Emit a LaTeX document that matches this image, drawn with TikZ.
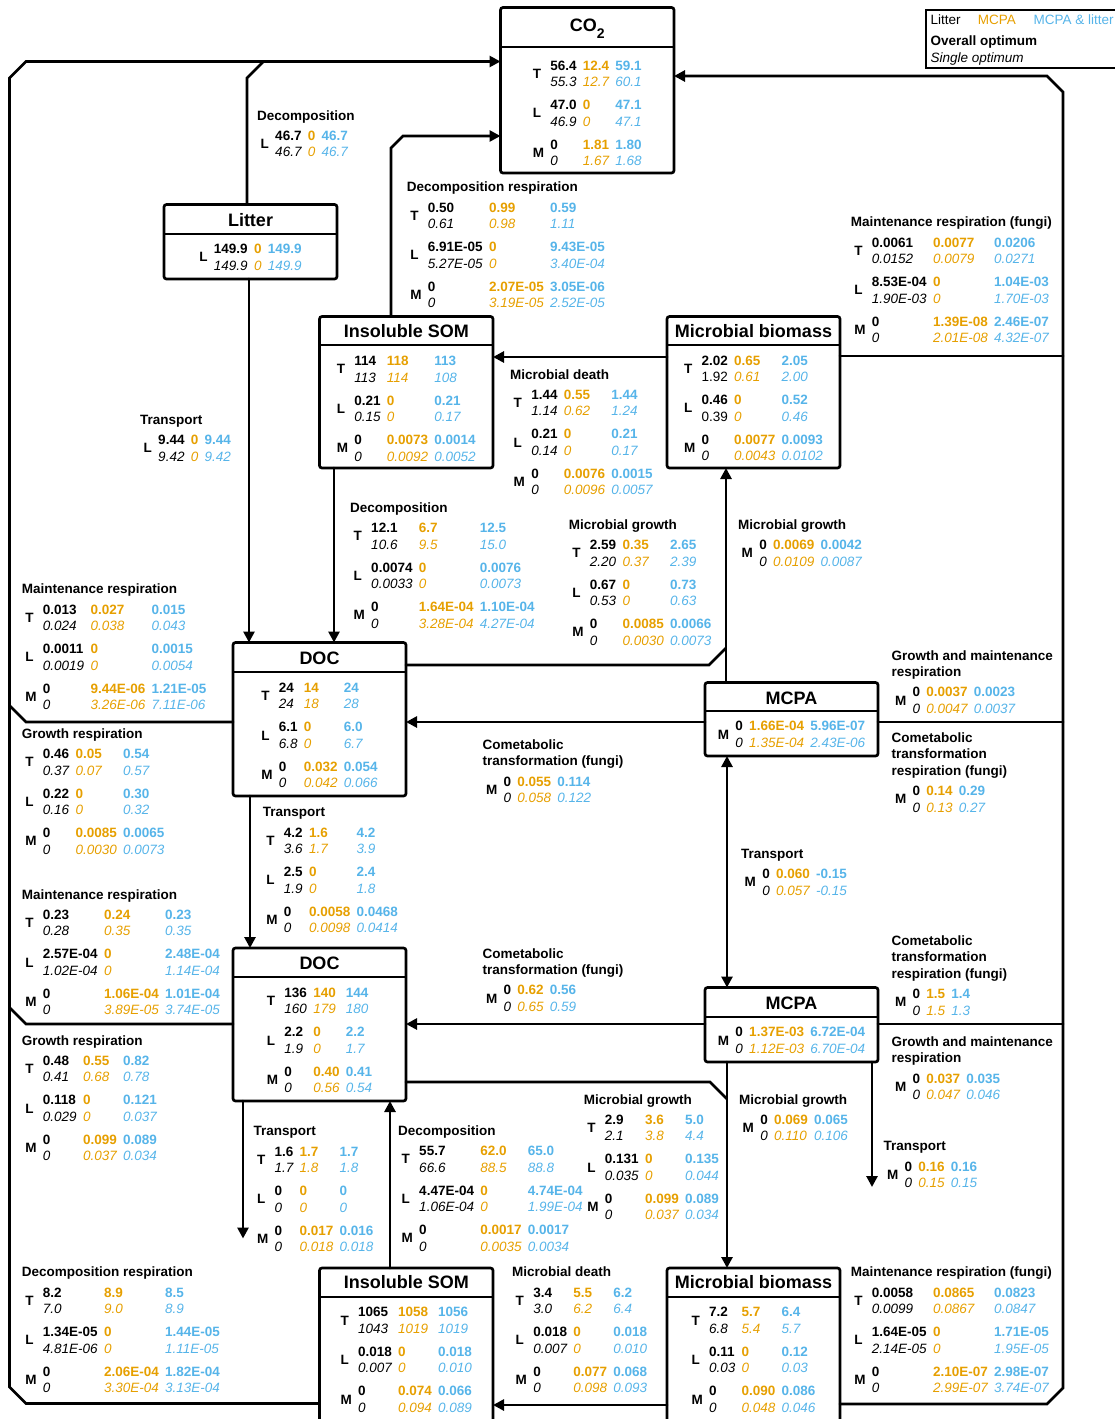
\documentclass[tikz,border=0pt]{standalone}
\usepackage{fontspec}
\setmainfont{Liberation Sans}
\usepackage{array}
\usetikzlibrary{arrows.meta}
\definecolor{mo}{HTML}{E69F00}
\definecolor{mb}{HTML}{56B4E9}
\newcommand\lbl{\fontsize{13.5}{16.6}\selectfont}
\newcommand\bxf{\fontsize{18}{21}\selectfont\bfseries}
\newcommand\fr[7]{\smash{\raisebox{-8.3pt}{\bfseries #1}} & \bfseries #2 & \bfseries\color{mo}#3 & \bfseries\color{mb}#4\\ & \itshape #5 & \itshape\color{mo}#6 & \itshape\color{mb}#7\\[6.3pt]}
\newcommand\ttl[1]{\multicolumn{4}{@{}l@{}}{\bfseries #1}\\[3.7pt]}
\newcommand\ttla[1]{\multicolumn{4}{@{}l@{}}{\bfseries #1}\\}
\newcommand\blk[3]{\node[anchor=north west,inner sep=0pt,font=\lbl] (#1) at #2 {\begin{tabular}{@{\hspace{3.5pt}}l@{\hspace{6.3pt}}l@{\hspace{6.3pt}}l@{\hspace{6.3pt}}l@{}}#3\end{tabular}};}
\newcommand\bdy[3]{\node[anchor=north,inner sep=0pt,font=\lbl] (#1) at #2 {\begin{tabular}{@{}l@{\hspace{6.3pt}}l@{\hspace{6.3pt}}l@{\hspace{6.3pt}}l@{}}#3\end{tabular}};}
\tikzset{
 cbox/.style={draw, line width=2.7pt, rounded corners=2.5pt, inner sep=0pt, outer sep=0pt, anchor=north west},
 divl/.style={line width=2.7pt},
 flow/.style={line width=2.7pt, line cap=round, -{Triangle[length=11pt,width=11pt]}},
 link/.style={line width=2.7pt, line cap=round},
 btitle/.style={font=\bxf, anchor=base, inner sep=0pt},
 legtxt/.style={font=\lbl, anchor=base west, inner sep=0pt},
}
\begin{document}
\begin{tikzpicture}[x=1pt,y=-1pt]
\useasboundingbox (0,0) rectangle (1115,1419);
\clip (0,0) rectangle (1115,1419);

% ---------- boxes ----------
\node[cbox, minimum width=173.5pt, minimum height=165.5pt] (co2) at (500.5,7.5) {};
\node[cbox, minimum width=173pt, minimum height=74.5pt] (litter) at (164,204.5) {};
\node[cbox, minimum width=173.5pt, minimum height=151.5pt] (isom1) at (319.5,316.5) {};
\node[cbox, minimum width=173pt, minimum height=151.5pt] (mb1) at (667,316.5) {};
\node[cbox, minimum width=173pt, minimum height=153.5pt] (doc1) at (233,642.5) {};
\node[cbox, minimum width=173pt, minimum height=73.5pt] (mcpa1) at (705,682.5) {};
\node[cbox, minimum width=173pt, minimum height=153pt] (doc2) at (233,948) {};
\node[cbox, minimum width=173pt, minimum height=74.5pt] (mcpa2) at (705,987.5) {};
\node[cbox, minimum width=173.5pt, minimum height=180pt] (isom2) at (319.5,1268) {};
\node[cbox, minimum width=173pt, minimum height=180pt] (mb2) at (667,1268) {};

\draw[divl] (co2.north west |- 0,47) -- (co2.north east |- 0,47);
\draw[divl] (litter.north west |- 0,234) -- (litter.north east |- 0,234);
\draw[divl] (isom1.north west |- 0,345) -- (isom1.north east |- 0,345);
\draw[divl] (mb1.north west |- 0,345) -- (mb1.north east |- 0,345);
\draw[divl] (doc1.north west |- 0,672) -- (doc1.north east |- 0,672);
\draw[divl] (mcpa1.north west |- 0,711) -- (mcpa1.north east |- 0,711);
\draw[divl] (doc2.north west |- 0,977) -- (doc2.north east |- 0,977);
\draw[divl] (mcpa2.north west |- 0,1017) -- (mcpa2.north east |- 0,1017);
\draw[divl] (isom2.north west |- 0,1297) -- (isom2.north east |- 0,1297);
\draw[divl] (mb2.north west |- 0,1297) -- (mb2.north east |- 0,1297);

\node[btitle] (co2t) at (587.25,31.7) {CO\raisebox{-6.5pt}{\fontsize{14}{14}\selectfont 2}};
\node[btitle] (littert) at (250.5,226) {Litter};
\node[btitle] (isom1t) at (406.25,337.5) {Insoluble SOM};
\node[btitle] (mb1t) at (753.5,337.5) {Microbial biomass};
\node[btitle] (doc1t) at (319.5,664.5) {DOC};
\node[btitle] (mcpa1t) at (791.5,704) {MCPA};
\node[btitle] (doc2t) at (319.5,969.7) {DOC};
\node[btitle] (mcpa2t) at (791.5,1009) {MCPA};
\node[btitle] (isom2t) at (406.25,1288.7) {Insoluble SOM};
\node[btitle] (mb2t) at (753.5,1288.7) {Microbial biomass};

% ---------- box contents ----------
\bdy{co2b}{(587.25,58.2)}{\fr{T}{56.4}{12.4}{59.1}{55.3}{12.7}{60.1}\fr{L}{47.0}{0}{47.1}{46.9}{0}{47.1}\fr{M}{0}{1.81}{1.80}{0}{1.67}{1.68}}
\bdy{litb}{(250.5,241.7)}{\fr{L}{149.9}{0}{149.9}{149.9}{0}{149.9}}
\bdy{isom1b}{(406.25,353.7)}{\fr{T}{114}{118}{113}{113}{114}{108}\fr{L}{0.21}{0}{0.21}{0.15}{0}{0.17}\fr{M}{0}{0.0073}{0.0014}{0}{0.0092}{0.0052}}
\bdy{mb1b}{(753.5,353.2)}{\fr{T}{2.02}{0.65}{2.05}{\upshape 1.92}{0.61}{2.00}\fr{L}{0.46}{0}{0.52}{\upshape 0.39}{0}{0.46}\fr{M}{0}{0.0077}{0.0093}{0}{0.0043}{0.0102}}
\bdy{doc1b}{(319.5,680.5)}{\fr{T}{24}{14}{24}{24}{18}{28}\fr{L}{6.1}{0}{6.0}{6.8}{0}{6.7}\fr{M}{0}{0.032}{0.054}{0}{0.042}{0.066}}
\bdy{mcpa1b}{(791.5,718.9)}{\fr{M}{0}{1.66E-04}{5.96E-07}{0}{1.35E-04}{2.43E-06}}
\bdy{doc2b}{(319.5,985.5)}{\fr{T}{136}{140}{144}{160}{179}{180}\fr{L}{2.2}{0}{2.2}{1.9}{0}{1.7}\fr{M}{0}{0.40}{0.41}{0}{0.56}{0.54}}
\bdy{mcpa2b}{(791.5,1024.9)}{\fr{M}{0}{1.37E-03}{6.72E-04}{0}{1.12E-03}{6.70E-04}}
\bdy{isom2b}{(406.25,1304.9)}{\fr{T}{1065}{1058}{1056}{1043}{1019}{1019}\fr{L}{0.018}{0}{0.018}{0.007}{0}{0.010}\fr{M}{0}{0.074}{0.066}{0}{0.094}{0.089}}
\bdy{mb2b}{(753.5,1304.9)}{\fr{T}{7.2}{5.7}{6.4}{6.8}{5.4}{5.7}\fr{L}{0.11}{0}{0.12}{0.03}{0}{0.03}\fr{M}{0}{0.090}{0.086}{0}{0.048}{0.046}}

% ---------- legend ----------
\node[draw, line width=1.2pt, minimum width=204pt, minimum height=58pt, anchor=north west, inner sep=0pt, outer sep=0pt] (leg) at (926,10) {};
\node[legtxt] (lg1) at (930.5,24.1) {Litter};
\node[legtxt, text=mo] (lg2) at (977.7,24.1) {MCPA};
\node[legtxt, text=mb] (lg3) at (1033.3,24.1) {MCPA \& litter};
\node[legtxt, font=\lbl\bfseries] (lg4) at (930.5,45.5) {Overall optimum};
\node[legtxt, font=\lbl\itshape] (lg5) at (930.5,62.1) {Single optimum};

% ---------- connectors ----------
\draw[flow] (isom2.north west |- 0,1403.5) -- (26,1403.5) -- (9.5,1387) -- (9.5,78) -- (26,61.5) -- (co2.north west |- 0,61.5);
\draw[link] (doc1.north west |- 0,722) -- (26,722) -- (9.5,705.5);
\draw[link] (doc2.north west |- 0,1024) -- (26,1024) -- (9.5,1007.5);
\draw[link] (litter.north -| 247,0) -- (247,78) -- (263.5,61.5);
\draw[flow] (isom1.north -| 391,0) -- (391,148) -- (403,136) -- (co2.north west |- 0,136);
\draw[flow] (mb2.north east |- 0,1404) -- (1047,1404) -- (1063,1388) -- (1063,92) -- (1047,76) -- (co2.north east |- 0,76);
\draw[link] (mb1.north east |- 0,356) -- (1063,356);
\draw[link] (mcpa1.north east |- 0,722) -- (1063,722);
\draw[link] (mcpa2.north east |- 0,1024) -- (1063,1024);
\draw[flow] (mb1.north west |- 0,357) -- (isom1.north east |- 0,357);
\draw[flow] (litter.south -| 249,0) -- (doc1.north -| 249,0);
\draw[flow] (isom1.south -| 334,0) -- (doc1.north -| 334,0);
\draw[flow] (mcpa1.north -| 726,0) -- (mb1.south -| 726,0);
\draw[link] (doc1.north east |- 0,665) -- (709,665) -- (726,648);
\draw[flow] (mcpa1.north west |- 0,722) -- (doc1.north east |- 0,722);
\draw[line width=2.7pt, {Triangle[length=11pt,width=11pt]}-{Triangle[length=11pt,width=11pt]}] (mcpa1.south -| 727,0) -- (mcpa2.north -| 727,0);
\draw[flow] (doc1.south -| 250,0) -- (doc2.north -| 250,0);
\draw[flow] (mcpa2.north west |- 0,1024) -- (doc2.north east |- 0,1024);
\draw[flow] (isom2.north -| 390,0) -- (doc2.south -| 390,0);
\coordinate (t1) at (243,1238.5);
\draw[flow] (doc2.south -| 243,0) -- (t1);
\draw[flow] (mcpa2.south -| 727,0) -- (mb2.north -| 727,0);
\draw[link] (doc2.north east |- 0,1082) -- (710,1082) -- (727,1099);
\coordinate (t2) at (872,1187);
\draw[flow] (mcpa2.south -| 872,0) -- (t2);
\draw[flow] (mb2.north west |- 0,1405) -- (isom2.north east |- 0,1405);

% ---------- flux labels ----------
\blk{dec1}{(257,108.2)}{\ttl{Decomposition}\fr{L}{46.7}{0}{46.7}{46.7}{0}{46.7}}
\blk{drs1}{(406.7,179.9)}{\ttl{Decomposition respiration}
\fr{T}{0.50}{0.99}{0.59}{0.61}{0.98}{1.11}
\fr{L}{6.91E-05}{0}{9.43E-05}{5.27E-05}{0}{3.40E-04}
\fr{M}{0}{2.07E-05}{3.05E-06}{0}{3.19E-05}{2.52E-05}}
\blk{mrf1}{(850.7,214.9)}{\ttl{Maintenance respiration (fungi)}
\fr{T}{0.0061}{0.0077}{0.0206}{0.0152}{0.0079}{0.0271}
\fr{L}{8.53E-04}{0}{1.04E-03}{1.90E-03}{0}{1.70E-03}
\fr{M}{0}{1.39E-08}{2.46E-07}{0}{2.01E-08}{4.32E-07}}
\blk{md1}{(510,367.2)}{\ttl{Microbial death}
\fr{T}{1.44}{0.55}{1.44}{1.14}{0.62}{1.24}
\fr{L}{0.21}{0}{0.21}{0.14}{0}{0.17}
\fr{M}{0}{0.0076}{0.0015}{0}{0.0096}{0.0057}}
\blk{tr1}{(140,412.5)}{\ttl{Transport}\fr{L}{9.44}{0}{9.44}{9.42}{0}{9.42}}
\blk{dec2}{(350,500.5)}{\ttl{Decomposition}
\fr{T}{12.1}{6.7}{12.5}{10.6}{9.5}{15.0}
\fr{L}{0.0074}{0}{0.0076}{0.0033}{0}{0.0073}
\fr{M}{0}{1.64E-04}{1.10E-04}{0}{3.28E-04}{4.27E-04}}
\blk{mg1}{(568.7,517.5)}{\ttl{Microbial growth}
\fr{T}{2.59}{0.35}{2.65}{2.20}{0.37}{2.39}
\fr{L}{0.67}{0}{0.73}{0.53}{0}{0.63}
\fr{M}{0}{0.0085}{0.0066}{0}{0.0030}{0.0073}}
\blk{mg2}{(738,517.5)}{\ttl{Microbial growth}\fr{M}{0}{0.0069}{0.0042}{0}{0.0109}{0.0087}}
\blk{mr1}{(21.7,581.9)}{\ttl{Maintenance respiration}
\fr{T}{0.013}{0.027}{0.015}{0.024}{0.038}{0.043}
\fr{L}{0.0011}{0}{0.0015}{0.0019}{0}{0.0054}
\fr{M}{0}{9.44E-06}{1.21E-05}{0}{3.26E-06}{7.11E-06}}
\blk{gmr1}{(891.3,648.2)}{\ttla{Growth and maintenance}\ttl{respiration}\fr{M}{0}{0.0037}{0.0023}{0}{0.0047}{0.0037}}
\blk{gr1}{(21.7,726.5)}{\ttl{Growth respiration}
\fr{T}{0.46}{0.05}{0.54}{0.37}{0.07}{0.57}
\fr{L}{0.22}{0}{0.30}{0.16}{0}{0.32}
\fr{M}{0}{0.0085}{0.0065}{0}{0.0030}{0.0073}}
\blk{ct1}{(482.3,737.5)}{\ttla{Cometabolic}\ttl{transformation (fungi)}\fr{M}{0}{0.055}{0.114}{0}{0.058}{0.122}}
\blk{ctr1}{(891.3,730.2)}{\ttla{Cometabolic}\ttla{transformation}\ttl{respiration (fungi)}\fr{M}{0}{0.14}{0.29}{0}{0.13}{0.27}}
\blk{tr2}{(262.7,804.9)}{\ttl{Transport}
\fr{T}{4.2}{1.6}{4.2}{3.6}{1.7}{3.9}
\fr{L}{2.5}{0}{2.4}{1.9}{0}{1.8}
\fr{M}{0}{0.0058}{0.0468}{0}{0.0098}{0.0414}}
\blk{tr3}{(741,846.5)}{\ttl{Transport}\fr{M}{0}{0.060}{-0.15}{0}{0.057}{-0.15}}
\blk{mr2}{(21.7,887.2)}{\ttl{Maintenance respiration}
\fr{T}{0.23}{0.24}{0.23}{0.28}{0.35}{0.35}
\fr{L}{2.57E-04}{0}{2.48E-04}{1.02E-04}{0}{1.14E-04}
\fr{M}{0}{1.06E-04}{1.01E-04}{0}{3.89E-05}{3.74E-05}}
\blk{ct2}{(482.3,946.2)}{\ttla{Cometabolic}\ttl{transformation (fungi)}\fr{M}{0}{0.62}{0.56}{0}{0.65}{0.59}}
\blk{ctr2}{(891.3,933.2)}{\ttla{Cometabolic}\ttla{transformation}\ttl{respiration (fungi)}\fr{M}{0}{1.5}{1.4}{0}{1.5}{1.3}}
\blk{gr2}{(21.7,1033.2)}{\ttl{Growth respiration}
\fr{T}{0.48}{0.55}{0.82}{0.41}{0.68}{0.78}
\fr{L}{0.118}{0}{0.121}{0.029}{0}{0.037}
\fr{M}{0}{0.099}{0.089}{0}{0.037}{0.034}}
\blk{gmr2}{(891.3,1034.5)}{\ttla{Growth and maintenance}\ttl{respiration}\fr{M}{0}{0.037}{0.035}{0}{0.047}{0.046}}
\blk{mg3}{(583.7,1092.2)}{\ttl{Microbial growth}
\fr{T}{2.9}{3.6}{5.0}{2.1}{3.8}{4.4}
\fr{L}{0.131}{0}{0.135}{0.035}{0}{0.044}
\fr{M}{0}{0.099}{0.089}{0}{0.037}{0.034}}
\blk{mg4}{(739,1092.2)}{\ttl{Microbial growth}\fr{M}{0}{0.069}{0.065}{0}{0.110}{0.106}}
\blk{tr4}{(253.3,1123.9)}{\ttl{Transport}
\fr{T}{1.6}{1.7}{1.7}{1.7}{1.8}{1.8}
\fr{L}{0}{0}{0}{0}{0}{0}
\fr{M}{0}{0.017}{0.016}{0}{0.018}{0.018}}
\blk{dec3}{(398,1123.5)}{\ttl{Decomposition}
\fr{T}{55.7}{62.0}{65.0}{66.6}{88.5}{88.8}
\fr{L}{4.47E-04}{0}{4.74E-04}{1.06E-04}{0}{1.99E-04}
\fr{M}{0}{0.0017}{0.0017}{0}{0.0035}{0.0034}}
\blk{tr5}{(883.3,1138.9)}{\ttl{Transport}\fr{M}{0}{0.16}{0.16}{0}{0.15}{0.15}}
\blk{drs2}{(21.7,1264.9)}{\ttl{Decomposition respiration}
\fr{T}{8.2}{8.9}{8.5}{7.0}{9.0}{8.9}
\fr{L}{1.34E-05}{0}{1.44E-05}{4.81E-06}{0}{1.11E-05}
\fr{M}{0}{2.06E-04}{1.82E-04}{0}{3.30E-04}{3.13E-04}}
\blk{md2}{(512,1264.9)}{\ttl{Microbial death}
\fr{T}{3.4}{5.5}{6.2}{3.0}{6.2}{6.4}
\fr{L}{0.018}{0}{0.018}{0.007}{0}{0.010}
\fr{M}{0}{0.077}{0.068}{0}{0.098}{0.093}}
\blk{mrf2}{(850.7,1264.9)}{\ttl{Maintenance respiration (fungi)}
\fr{T}{0.0058}{0.0865}{0.0823}{0.0099}{0.0867}{0.0847}
\fr{L}{1.64E-05}{0}{1.71E-05}{2.14E-05}{0}{1.95E-05}
\fr{M}{0}{2.10E-07}{2.98E-07}{0}{2.99E-07}{3.74E-07}}
\end{tikzpicture}
\end{document}
